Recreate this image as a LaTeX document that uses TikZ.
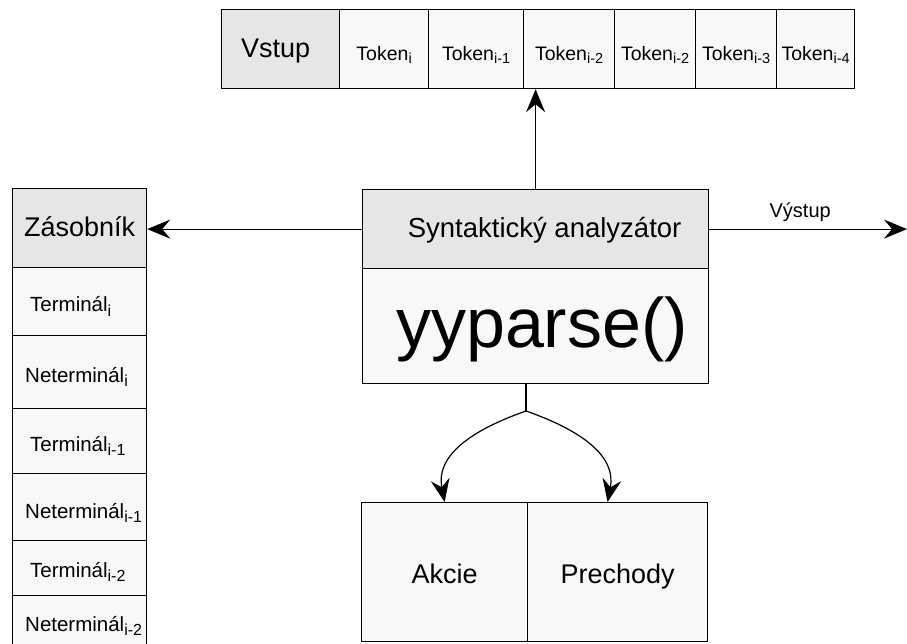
\documentclass[tikz,border=0pt]{standalone}
\usepackage{fontspec}
\setmainfont{Liberation Sans}
\usetikzlibrary{arrows.meta,calc}
\definecolor{hdrfill}{HTML}{E6E6E6}
\definecolor{cellfill}{HTML}{F8F8F8}
\newcommand\fs[1]{\fontsize{#1}{#1}\selectfont}
\newcommand\subx[3]{\raisebox{-#2}{\fontsize{#1}{#1}\selectfont #3}}
\newcommand\tok[1]{\fs{19.5}Token\subx{14.5}{3pt}{#1}}
\newcommand\stk[2]{\fs{20.5}#1\subx{16}{4.5pt}{#2}}
\tikzset{
  cellbox/.style={draw, line width=1.2pt, fill=cellfill, inner sep=0pt, anchor=north west},
  hdrbox/.style={cellbox, fill=hdrfill},
  txt/.style={inner sep=0pt, anchor=base},
  txtw/.style={inner sep=0pt, anchor=base west},
  arr/.style={line width=1.2pt, -{Stealth[length=23pt,width=19pt,inset=8pt]}},
  plain/.style={line width=1.2pt},
}
\begin{document}
\begin{tikzpicture}[x=1pt,y=-1pt]
\useasboundingbox (0,0) rectangle (907,643);
% top input row
\node[hdrbox, minimum width=118pt, minimum height=79pt] (vstup) at (221,9) {};
\node[cellbox, minimum width=89pt, minimum height=79pt] (t1) at (339,9) {};
\node[cellbox, minimum width=95pt, minimum height=79pt] (t2) at (428,9) {};
\node[cellbox, minimum width=91pt, minimum height=79pt] (t3) at (523,9) {};
\node[cellbox, minimum width=81pt, minimum height=79pt] (t4) at (614,9) {};
\node[cellbox, minimum width=81pt, minimum height=79pt] (t5) at (695,9) {};
\node[cellbox, minimum width=78pt, minimum height=79pt] (t6) at (776,9) {};
\node[txt] (lvstup) at ([xshift=-5pt,yshift=-8pt]vstup.center) {\fs{27}Vstup};
\node[txt] (lt1) at ([yshift=-11.5pt]t1.center) {\tok{i}};
\node[txt] (lt2) at ([yshift=-11.5pt]t2.center) {\tok{i-1}};
\node[txt] (lt3) at ([yshift=-11.5pt]t3.center) {\tok{i-2}};
\node[txt] (lt4) at ([yshift=-11.5pt]t4.center) {\tok{i-2}};
\node[txt] (lt5) at ([yshift=-11.5pt]t5.center) {\tok{i-3}};
\node[txt] (lt6) at ([yshift=-11.5pt]t6.center) {\tok{i-4}};
% stack
\node[hdrbox, minimum width=134pt, minimum height=79pt] (zas) at (12,188) {};
\node[cellbox, minimum width=134pt, minimum height=68pt] (s1) at (12,267) {};
\node[cellbox, minimum width=134pt, minimum height=73pt] (s2) at (12,335) {};
\node[cellbox, minimum width=134pt, minimum height=65pt] (s3) at (12,408) {};
\node[cellbox, minimum width=134pt, minimum height=67pt] (s4) at (12,473) {};
\node[cellbox, minimum width=134pt, minimum height=55pt] (s5) at (12,540) {};
\node[cellbox, minimum width=134pt, minimum height=60pt] (s6) at (12,595) {};
\node[txt] (lzas) at ([yshift=-8.5pt]zas.center) {\fs{27}Zásobník};
\node[txtw] (ls1) at ([xshift=18pt,yshift=-10pt]s1.west) {\stk{Terminál}{i}};
\node[txtw] (ls2) at ([xshift=13pt,yshift=-10pt]s2.west) {\stk{Neterminál}{i}};
\node[txtw] (ls3) at ([xshift=18pt,yshift=-10pt]s3.west) {\stk{Terminál}{i-1}};
\node[txtw] (ls4) at ([xshift=13pt,yshift=-11pt]s4.west) {\stk{Neterminál}{i-1}};
\node[txtw] (ls5) at ([xshift=18pt,yshift=-9pt]s5.west) {\stk{Terminál}{i-2}};
\node[txtw] (ls6) at (25,631) {\stk{Neterminál}{i-2}};
% parser
\node[hdrbox, minimum width=346pt, minimum height=79pt] (hdr) at (362,189) {};
\node[cellbox, minimum width=346pt, minimum height=115pt] (body) at (362,268) {};
\node[txt] (lhdr) at ([xshift=9pt,yshift=-8.5pt]hdr.center) {\fs{27.5}Syntaktický analyzátor};
\node[txt] (lbody) at (542,347) {\fs{70}yyparse()};
% bottom boxes
\node[cellbox, minimum width=166pt, minimum height=139pt] (akc) at (361,502) {};
\node[cellbox, minimum width=180pt, minimum height=139pt] (prech) at (527,502) {};
\node[txt] (lakc) at ([yshift=-11pt]akc.center) {\fs{27}Akcie};
\node[txt] (lprech) at ([yshift=-11pt]prech.center) {\fs{27}Prechody};
% connectors
\draw[arr] (hdr.north) -- (hdr.north |- vstup.south);
\draw[arr] (hdr.west) -- (hdr.west -| zas.east);
\coordinate (out) at (907,227);
\draw[arr] (hdr.east) -- (hdr.east -| out)
  node[pos=0.46, inner sep=0pt, anchor=base, yshift=12pt] (lout) {\fs{20}Výstup};
\coordinate (fork) at (526,411);
\coordinate (ptip) at ([xshift=-10pt]prech.north);
\draw[plain] (fork |- body.south) -- (fork);
\draw[arr] (fork) .. controls (466,432) and (436,458) .. (akc.north);
\draw[arr] (fork) .. controls (586,432) and (616,458) .. (ptip);
\end{tikzpicture}
\end{document}
